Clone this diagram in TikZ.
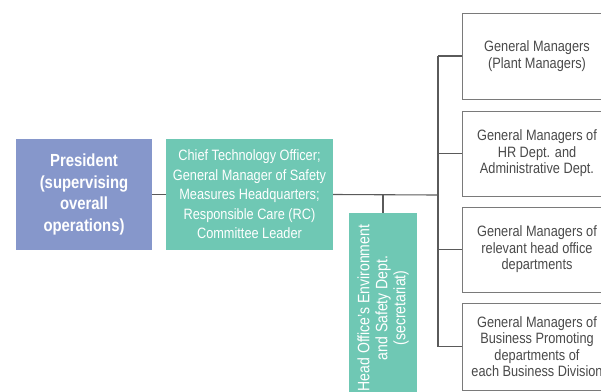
\documentclass[tikz,border=0pt]{standalone}
\usepackage{fontspec}
\setmainfont{Liberation Sans}[FakeStretch=0.85]
\usepackage{tikz}
\usetikzlibrary{calc}
\definecolor{presblue}{HTML}{8697CB}
\definecolor{safegreen}{HTML}{6FC8B4}
\definecolor{linegray}{HTML}{5A5A5A}
\definecolor{boxgray}{HTML}{7A7A7A}
\definecolor{textgray}{HTML}{4A4A4A}
\newcommand*{\ManagerColumn}[1]{% #1 = list of name/y/height/text
\foreach \n/\y/\h/\text in {#1} {
\node [mgr, minimum height=\h] (\n) at (537,\y) {\text};
\draw [conn] (bus |- \n.west) -- (\n.west);
}%
}

\begin{document}
\begin{tikzpicture}[x=1pt,y=-1pt,
    conn/.style={draw=linegray, line width=1.1pt},
    mgr/.style={draw=boxgray, line width=0.9pt, fill=white, text=textgray,
      align=center, minimum width=150pt,
      font={\fontsize{15}{16.5}\selectfont}},
    colbox/.style={draw=none, text=white, align=center, inner sep=0pt}]

    \useasboundingbox (0,0) rectangle (601,391);
    \clip (0,0) rectangle (601,391);

    % left part
    \node [colbox, fill=presblue, minimum width=136pt, minimum height=111pt,
      font={\fontsize{17.5}{21.5}\selectfont\bfseries}]
      (pres) at (84,194.5) {President\\(supervising\\overall\\operations)};
    \node [colbox, fill=safegreen, minimum width=167pt, minimum height=111pt,
      font={\fontsize{15}{19.5}\selectfont}]
      (cto) at (249.5,194.5) {Chief Technology Officer;\\General Manager of Safety\\
      Measures Headquarters;\\Responsible Care (RC)\\Committee Leader};
    \node [colbox, fill=safegreen, rotate=90, minimum width=190pt, minimum height=68pt,
      font={\fontsize{16.5}{18}\selectfont}]
      (sec) at (383,308) {Head Office’s Environment\\and Safety Dept.\\(secretariat)};

    \coordinate (bus) at (438,195);
    \draw [conn] (pres.east) -- (cto.west);
    \draw [conn] (cto.east) -- (bus);
    \draw [conn] (sec.east) -- (sec.east |- cto.east);

    % right column
    \ManagerColumn{
    gm1/56/86pt/{General Managers\\(Plant Managers)},
    gm2/153.5/85pt/{General Managers of\\HR Dept. and\\Administrative Dept.},
    gm3/249.5/85pt/{General Managers of\\relevant head office\\departments},
    gm4/346.5/87pt/{General Managers of\\Business Promoting\\departments of\\each Business Division}}
    \draw [conn] (bus |- gm1.west) -- (bus |- gm4.west);

\end{tikzpicture}
\end{document}
